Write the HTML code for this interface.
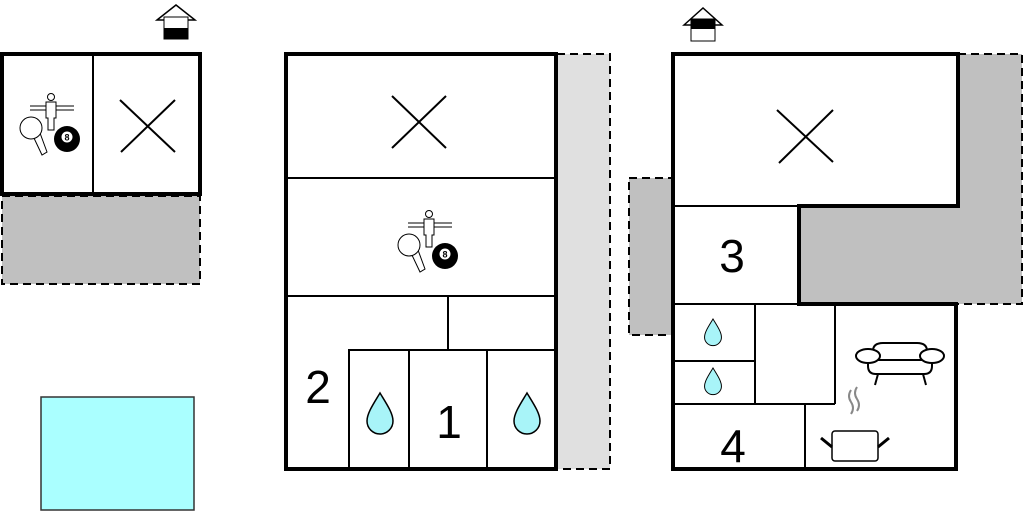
<!DOCTYPE html>
<html><head><style>html,body{margin:0;padding:0;background:#fff;}svg{display:block}</style></head>
<body>
<svg width="1024" height="511" viewBox="0 0 1024 511" xmlns="http://www.w3.org/2000/svg" font-family="Liberation Sans, sans-serif">
<defs>
<g id="games">
  <line x1="30" y1="106" x2="74" y2="106" stroke="#000" stroke-width="1"/>
  <line x1="30" y1="110" x2="74" y2="110" stroke="#000" stroke-width="1"/>
  <circle cx="51" cy="97" r="3.5" fill="#fff" stroke="#000" stroke-width="1"/>
  <path d="M46,102 h10 v16 h-2 v12 h-6 v-12 h-2 z" fill="#fff" stroke="#000" stroke-width="1"/>
  <path d="M33,136 L40,133 L47,152 L42,155 Z" fill="#fff" stroke="#000" stroke-width="1"/>
  <circle cx="31" cy="128" r="11" fill="#fff" stroke="#000" stroke-width="1"/>
  <circle cx="67" cy="139" r="13" fill="#000"/>
  <circle cx="67" cy="137" r="5.5" fill="#fff"/>
  <text x="67" y="140.5" font-size="9" font-weight="bold" text-anchor="middle" fill="#000">8</text>
</g>
<path id="drop" d="M0,-20 C6,-10 13,0 13,8 A13,13 0 0 1 -13,8 C-13,0 -6,-10 0,-20 Z" fill="#a8f4f8" stroke="#000" stroke-width="1.5"/>
</defs>

<!-- LEFT BUILDING -->
<polygon points="157,20 176,5 195,20" fill="none" stroke="#000" stroke-width="1.5"/>
<rect x="164" y="17" width="24" height="22" fill="#fff" stroke="#000" stroke-width="1"/>
<rect x="164" y="28" width="24" height="11" fill="#000"/>
<rect x="2" y="196" width="198" height="88" fill="#c0c0c0" stroke="#000" stroke-width="2" stroke-dasharray="8,5"/>
<rect x="2" y="54" width="198" height="140" fill="#fff" stroke="#000" stroke-width="4"/>
<line x1="93" y1="54" x2="93" y2="194" stroke="#000" stroke-width="2"/>
<line x1="120" y1="100" x2="175" y2="152" stroke="#000" stroke-width="2"/>
<line x1="175" y1="100" x2="121" y2="152" stroke="#000" stroke-width="2"/>
<use href="#games"/>
<rect x="41" y="397" width="153" height="113" fill="#aaffff" stroke="#333" stroke-width="1.5"/>

<!-- MIDDLE BUILDING -->
<rect x="557" y="54" width="53" height="415" fill="#e0e0e0" stroke="#000" stroke-width="2" stroke-dasharray="8,5"/>
<rect x="286" y="54" width="270" height="415" fill="#fff" stroke="#000" stroke-width="4"/>
<line x1="286" y1="178" x2="556" y2="178" stroke="#000" stroke-width="2"/>
<line x1="286" y1="296" x2="556" y2="296" stroke="#000" stroke-width="2"/>
<line x1="448" y1="296" x2="448" y2="350" stroke="#000" stroke-width="2"/>
<line x1="348" y1="350" x2="556" y2="350" stroke="#000" stroke-width="2"/>
<line x1="349" y1="350" x2="349" y2="469" stroke="#000" stroke-width="2"/>
<line x1="409" y1="350" x2="409" y2="469" stroke="#000" stroke-width="2"/>
<line x1="487" y1="350" x2="487" y2="469" stroke="#000" stroke-width="2"/>
<line x1="392" y1="96" x2="446" y2="148" stroke="#000" stroke-width="2"/>
<line x1="446" y1="96" x2="392" y2="148" stroke="#000" stroke-width="2"/>
<use href="#games" transform="translate(378,117)"/>
<text x="318" y="403" font-size="46" text-anchor="middle">2</text>
<text x="449" y="438" font-size="46" text-anchor="middle">1</text>
<use href="#drop" transform="translate(380,413)"/>
<use href="#drop" transform="translate(527,413)"/>

<!-- RIGHT BUILDING -->
<polygon points="684,25 703,8 722,25" fill="none" stroke="#000" stroke-width="1.5"/>
<rect x="691" y="19" width="24" height="22" fill="#fff" stroke="#000" stroke-width="1"/>
<rect x="691" y="19" width="24" height="10" fill="#000"/>
<rect x="629" y="178" width="44" height="157" fill="#c0c0c0" stroke="#000" stroke-width="2" stroke-dasharray="8,5"/>
<polygon points="958,54 1022,54 1022,304 799,304 799,206 958,206" fill="#c0c0c0" stroke="#000" stroke-width="2" stroke-dasharray="8,5"/>
<polygon points="673,54 958,54 958,206 799,206 799,304 956,304 956,469 673,469" fill="#fff" stroke="#000" stroke-width="4"/>
<line x1="673" y1="206" x2="799" y2="206" stroke="#000" stroke-width="2"/>
<line x1="673" y1="304" x2="799" y2="304" stroke="#000" stroke-width="2"/>
<line x1="755" y1="304" x2="755" y2="404" stroke="#000" stroke-width="2"/>
<line x1="673" y1="361" x2="755" y2="361" stroke="#000" stroke-width="2"/>
<line x1="835" y1="304" x2="835" y2="404" stroke="#000" stroke-width="2"/>
<line x1="673" y1="404" x2="835" y2="404" stroke="#000" stroke-width="2"/>
<line x1="805" y1="404" x2="805" y2="469" stroke="#000" stroke-width="2"/>
<line x1="777" y1="110" x2="833" y2="162" stroke="#000" stroke-width="2"/>
<line x1="833" y1="110" x2="779" y2="163" stroke="#000" stroke-width="2"/>
<text x="732" y="272" font-size="46" text-anchor="middle">3</text>
<text x="733" y="462" font-size="46" text-anchor="middle">4</text>
<use href="#drop" transform="translate(713,332) scale(0.65)"/>
<use href="#drop" transform="translate(713,381) scale(0.65)"/>
<!-- sofa -->
<g fill="#fff" stroke="#000" stroke-width="2">
  <line x1="878" y1="374" x2="875" y2="385"/>
  <line x1="923" y1="374" x2="926" y2="385"/>
  <path d="M873,360 v-9 q0,-8 10,-8 h34 q10,0 10,8 v9 z"/>
  <path d="M868,360 h64 v6 q0,8 -8,8 h-48 q-8,0 -8,-8 z"/>
  <ellipse cx="868" cy="356" rx="12" ry="7"/>
  <ellipse cx="932" cy="356" rx="12" ry="7"/>
</g>
<!-- pot -->
<path d="M851,390 q-4,6 0,12 q4,6 0,12 M857,387 q-4,6 0,12 q4,6 0,12" fill="none" stroke="#888" stroke-width="2"/>
<rect x="832" y="431" width="46" height="30" rx="3" fill="#fff" stroke="#000" stroke-width="1.5"/>
<line x1="821" y1="438" x2="832" y2="447" stroke="#000" stroke-width="3"/>
<line x1="889" y1="438" x2="878" y2="447" stroke="#000" stroke-width="3"/>
</svg>
</body></html>
